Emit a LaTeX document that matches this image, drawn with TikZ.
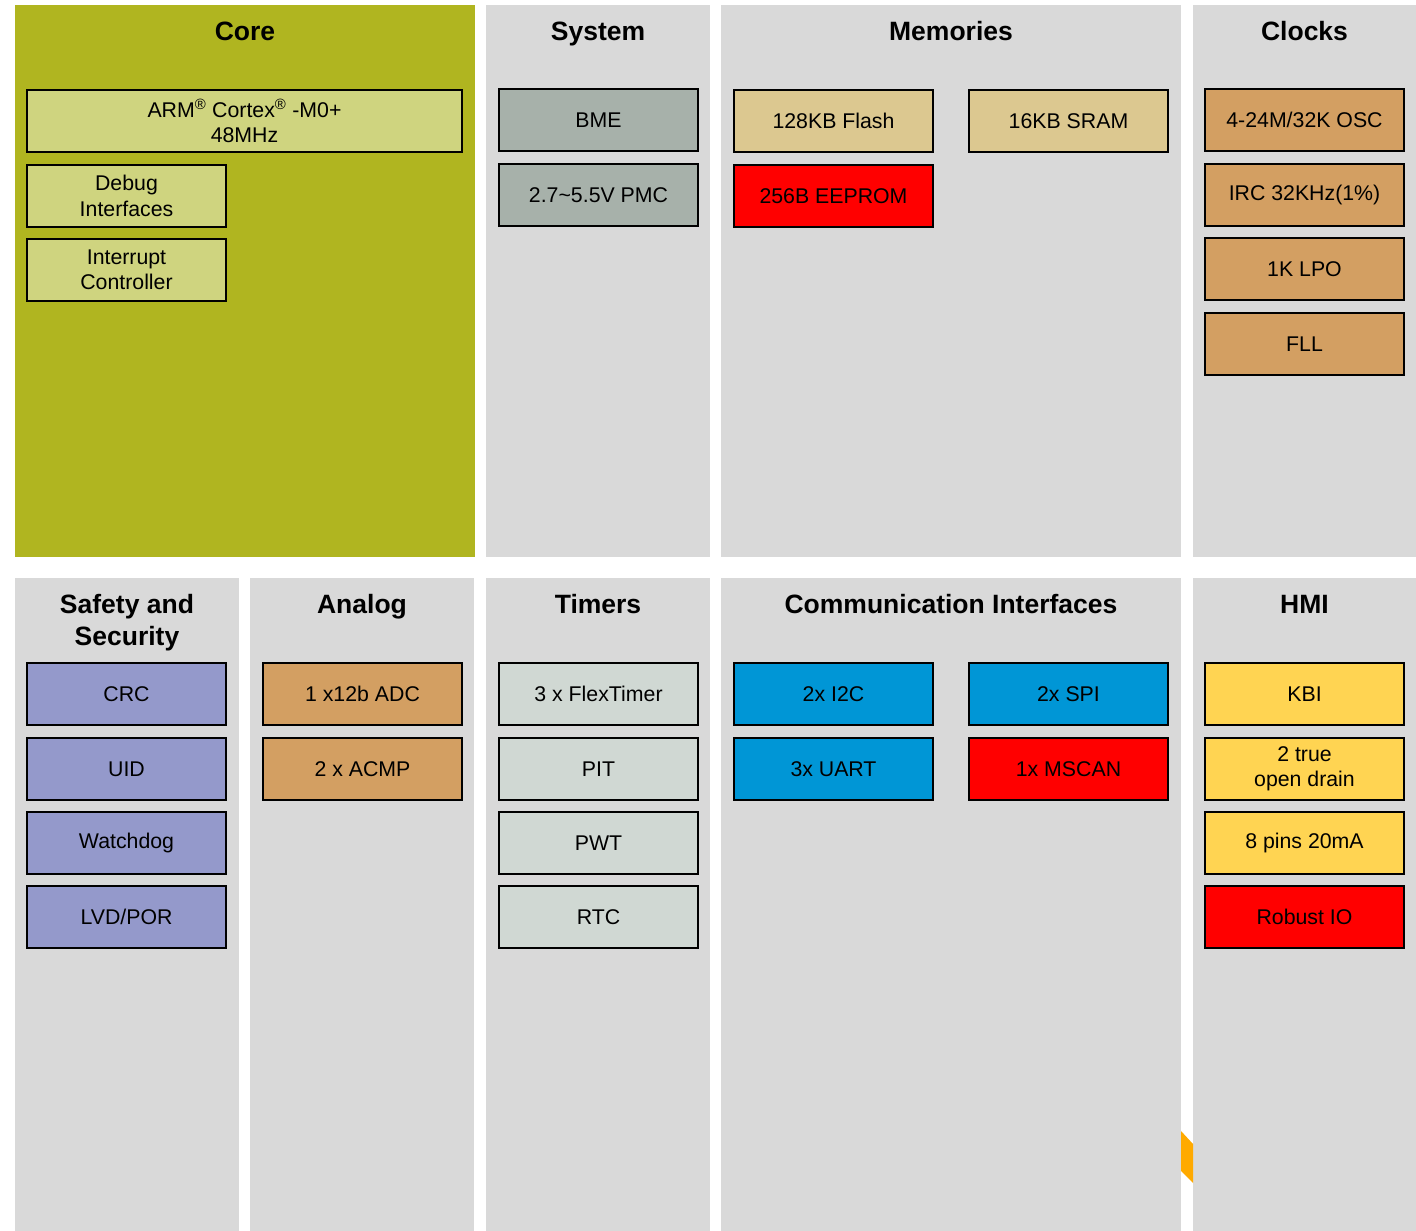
\documentclass[tikz,border=0pt]{standalone}
\usepackage{fontspec}
\setmainfont{Liberation Sans}
\definecolor{panelgray}{HTML}{D9D9D9}
\definecolor{coreolive}{HTML}{B0B520}
\definecolor{corebox}{HTML}{CFD47F}
\definecolor{sysbox}{HTML}{A7B1AA}
\definecolor{membox}{HTML}{DCC890}
\definecolor{clkbox}{HTML}{D39F62}
\definecolor{safebox}{HTML}{9499CB}
\definecolor{tmrbox}{HTML}{D0D8D3}
\definecolor{commbox}{HTML}{0096D6}
\definecolor{hmibox}{HTML}{FFD452}
\definecolor{hotred}{HTML}{FF0000}
\definecolor{tabamber}{HTML}{FFAA00}
\begin{document}
\begin{tikzpicture}[x=1pt,y=-1pt,
  blk/.style={draw=black, line width=2pt, minimum width=199pt, minimum height=62pt,
    inner sep=0pt, outer sep=0pt, align=center, anchor=north west, text=black,
    font=\fontsize{21.3}{25.5}\selectfont},
  ttl/.style={font=\fontsize{26.5}{32}\selectfont\bfseries, align=center, anchor=base, inner sep=0pt}]

% canvas
\fill[white] (0,0) rectangle (1416,1231);
\useasboundingbox (0,0) rectangle (1416,1231);

% column panels, top row
\fill[coreolive] (15,5) rectangle (475,557);
\fill[panelgray] (486,5) rectangle (710,557);
\fill[panelgray] (721,5) rectangle (1181,557);
\fill[panelgray] (1193,5) rectangle (1416,557);
% column panels, bottom row
\fill[panelgray] (15,578) rectangle (239,1231);
\fill[panelgray] (250,578) rectangle (474,1231);
\fill[panelgray] (486,578) rectangle (710,1231);
\fill[panelgray] (721,578) rectangle (1181,1231);
\fill[panelgray] (1193,578) rectangle (1416,1231);

% small tab between the last two panels
\fill[tabamber] (1181,1131) -- (1193,1144) -- (1193,1183) -- (1181,1171) -- cycle;

% headings (multi-line headings sit on the baseline of their last line)
\node[ttl] (tcore) at (245,40.5) {Core};
\node[ttl] (tsys) at (598,40.5) {System};
\node[ttl] (tmem) at (951,40.5) {Memories};
\node[ttl] (tclk) at (1304.5,40.5) {Clocks};
\node[ttl] (tsafe) at (127,645.5) {Safety and\\Security};
\node[ttl] (tana) at (362,613.5) {Analog};
\node[ttl] (ttmr) at (598,613.5) {Timers};
\node[ttl] (tcomm) at (951,613.5) {Communication Interfaces};
\node[ttl] (thmi) at (1304.5,613.5) {HMI};

% core
\node[blk, fill=corebox, minimum width=435pt] (arm) at (27,90)
  {ARM\textsuperscript{®} Cortex\textsuperscript{®} -M0+\\48MHz};
\node[blk, fill=corebox] (dbg) at (27,165) {Debug\\Interfaces};
\node[blk, fill=corebox] (irq) at (27,239) {Interrupt\\Controller};

% system
\node[blk, fill=sysbox] (bme) at (499,89) {BME};
\node[blk, fill=sysbox] (pmc) at (499,164) {2.7\textasciitilde5.5V PMC};

% memories
\node[blk, fill=membox] (flash) at (734,90) {128KB Flash};
\node[blk, fill=membox] (sram) at (969,90) {16KB SRAM};
\node[blk, fill=hotred] (eeprom) at (734,165) {256B EEPROM};

% clocks
\node[blk, fill=clkbox] (osc) at (1205,89) {4-24M/32K OSC};
\node[blk, fill=clkbox] (irc) at (1205,164) {IRC 32KHz(1\%)};
\node[blk, fill=clkbox] (lpo) at (1205,238) {1K LPO};
\node[blk, fill=clkbox] (fll) at (1205,313) {FLL};

% safety and security
\node[blk, fill=safebox] (crc) at (27,663) {CRC};
\node[blk, fill=safebox] (uid) at (27,738) {UID};
\node[blk, fill=safebox] (wdog) at (27,812) {Watchdog};
\node[blk, fill=safebox] (lvd) at (27,886) {LVD/POR};

% analog
\node[blk, fill=clkbox] (adc) at (263,663) {1 x12b ADC};
\node[blk, fill=clkbox] (acmp) at (263,738) {2 x ACMP};

% timers
\node[blk, fill=tmrbox] (ftm) at (499,663) {3 x FlexTimer};
\node[blk, fill=tmrbox] (pit) at (499,738) {PIT};
\node[blk, fill=tmrbox] (pwt) at (499,812) {PWT};
\node[blk, fill=tmrbox] (rtc) at (499,886) {RTC};

% communication interfaces
\node[blk, fill=commbox] (i2c) at (734,663) {2x I2C};
\node[blk, fill=commbox] (spi) at (969,663) {2x SPI};
\node[blk, fill=commbox] (uart) at (734,738) {3x UART};
\node[blk, fill=hotred] (mscan) at (969,738) {1x MSCAN};

% HMI
\node[blk, fill=hmibox] (kbi) at (1205,663) {KBI};
\node[blk, fill=hmibox] (od) at (1205,738) {2 true\\open drain};
\node[blk, fill=hmibox] (hd) at (1205,812) {8 pins 20mA};
\node[blk, fill=hotred] (rio) at (1205,886) {Robust IO};
\end{tikzpicture}
\end{document}
